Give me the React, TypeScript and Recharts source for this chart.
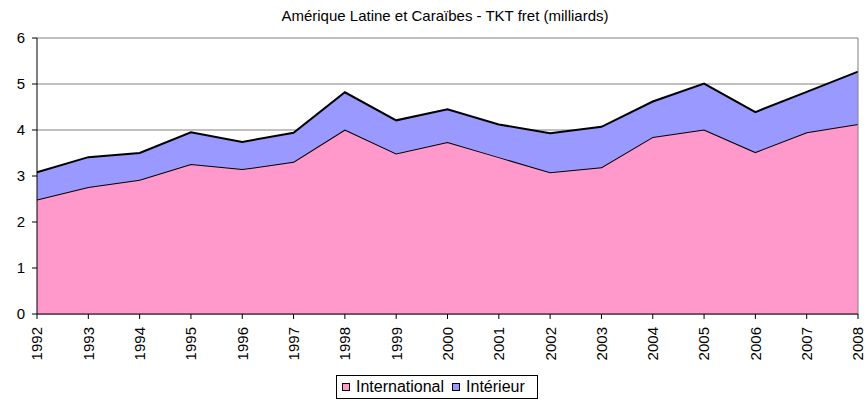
import React from "react";
import {
  AreaChart,
  Area,
  CartesianGrid,
  XAxis,
  YAxis,
  ReferenceLine,
} from "recharts";

const years = [
  "1992", "1993", "1994", "1995", "1996", "1997", "1998", "1999", "2000",
  "2001", "2002", "2003", "2004", "2005", "2006", "2007", "2008",
];
const international = [
  2.49, 2.76, 2.92, 3.26, 3.15, 3.31, 4.01, 3.49, 3.74,
  3.41, 3.08, 3.19, 3.85, 4.01, 3.52, 3.95, 4.13,
];
const interieur = [
  0.59, 0.65, 0.58, 0.69, 0.59, 0.63, 0.81, 0.72, 0.71,
  0.71, 0.85, 0.88, 0.77, 1.0, 0.87, 0.88, 1.14,
];
const yTicks = [0, 1, 2, 3, 4, 5, 6];

const data = years.map((year, i) => ({
  year,
  international: international[i],
  interieur: interieur[i],
}));

const FONT = "'Liberation Sans', Arial, sans-serif";

// year labels rotated to read bottom-to-top, hanging under each tick
function YearTick({ x, y, payload }: any) {
  const ty = y + 6;
  return (
    <text
      x={x}
      y={ty}
      transform={`rotate(-90, ${x}, ${ty})`}
      textAnchor="end"
      dy="0.36em"
      fontSize={15}
      fontFamily={FONT}
      fill="#000"
    >
      {payload.value}
    </text>
  );
}

function Swatch({ color, gap }: { color: string; gap: number }) {
  return (
    <span
      style={{
        display: "inline-block",
        width: 6,
        height: 6,
        background: color,
        border: "1.5px solid #000",
        marginRight: gap,
      }}
    />
  );
}

export default function App() {
  return (
    <div
      style={{
        position: "absolute",
        left: 0,
        top: 0,
        width: 866,
        height: 404,
        background: "#fff",
        fontFamily: FONT,
      }}
    >
      <div
        style={{
          position: "absolute",
          left: 12,
          top: 7,
          width: 866,
          textAlign: "center",
          fontSize: 15,
          color: "#000",
        }}
      >
        Amérique Latine et Caraïbes - TKT fret (milliards)
      </div>

      <AreaChart
        width={866}
        height={404}
        data={data}
        margin={{ top: 38, right: 8, bottom: 0, left: 0 }}
      >
        <CartesianGrid vertical={false} stroke="#808080" strokeWidth={1} />
        <XAxis
          dataKey="year"
          height={90}
          interval={0}
          tickSize={5}
          tick={<YearTick />}
          axisLine={{ stroke: "#000", strokeWidth: 1 }}
          tickLine={{ stroke: "#000" }}
        />
        <YAxis
          width={37}
          domain={[0, 6]}
          ticks={yTicks}
          interval={0}
          tickSize={5}
          tickMargin={7}
          tick={{ fontSize: 15, fill: "#000", fontFamily: FONT }}
          axisLine={{ stroke: "#000", strokeWidth: 1 }}
          tickLine={{ stroke: "#000" }}
        />
        <ReferenceLine x="2008" stroke="#808080" />
        <Area
          type="linear"
          dataKey="international"
          stackId="a"
          fill="#FF99CC"
          fillOpacity={1}
          stroke="#000"
          strokeWidth={2}
          dot={false}
          activeDot={false}
          isAnimationActive={false}
        />
        <Area
          type="linear"
          dataKey="interieur"
          stackId="a"
          fill="#9999FF"
          fillOpacity={1}
          stroke="#000"
          strokeWidth={2}
          dot={false}
          activeDot={false}
          isAnimationActive={false}
        />
      </AreaChart>

      <div
        style={{
          position: "absolute",
          left: 336,
          top: 375,
          width: 202,
          height: 24,
          border: "1px solid #000",
          boxSizing: "border-box",
          display: "flex",
          alignItems: "center",
          paddingLeft: 5,
          fontSize: 16,
          color: "#000",
          background: "#fff",
        }}
      >
        <Swatch color="#FF99CC" gap={6} />
        <span style={{ marginRight: 8 }}>International</span>
        <Swatch color="#9999FF" gap={6} />
        <span>Intérieur</span>
      </div>
    </div>
  );
}
